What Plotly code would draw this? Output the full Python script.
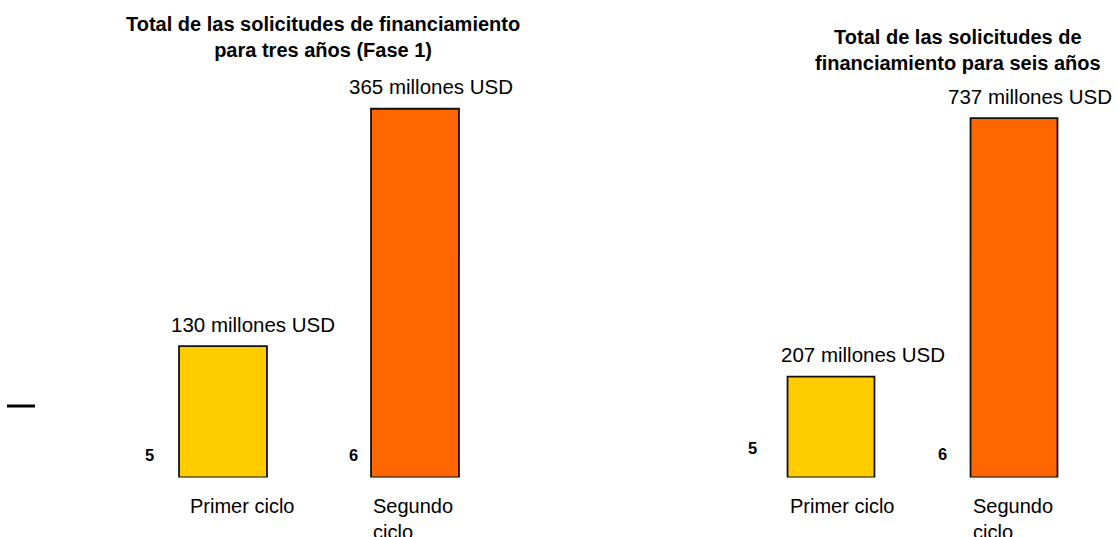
import plotly.graph_objects as go

# ---------------- data ----------------
categories = ["Primer ciclo", "Segundo<br>ciclo"]
cycle_numbers = ["5", "6"]
phase1_values = [130, 365]        # millones USD, tres años (Fase 1)
six_year_values = [207, 737]      # millones USD, seis años
panel_titles = [
    "<b>Total de las solicitudes de financiamiento<br>para tres años (Fase 1)</b>",
    "<b>Total de las solicitudes de<br>financiamiento para seis años</b>",
]
unit_label = "millones USD"

# ---------------- style ----------------
W, H = 1118, 537
FONT = "Liberation Sans, Arial, sans-serif"
bar_colors = ["#FFCC00", "#FF6600"]
panels = [
    dict(values=phase1_values, xa="x", ya="y", xdom=[127 / W, 511 / W], top=1.295,
         width=0.458, val_dx=[30, 16], num_dx=[-74, -62], num_dy=[23, 23],
         cat_dx=[-35, -44], title_x=323 / W, title_y=1 - 37 / H),
    dict(values=six_year_values, xa="x2", ya="y2", xdom=[739.5 / W, 1105.5 / W], top=1.329,
         width=0.475, val_dx=[32, 16], num_dx=[-79, -72], num_dy=[30, 24],
         cat_dx=[-43, -43], title_x=958 / W, title_y=1 - 50 / H),
]
base_paper = (H - 477.5) / H

fig = go.Figure()
annotations = []
for idx, p in enumerate(panels):
    vals = p["values"]
    fig.add_trace(go.Bar(
        x=list(range(len(categories))), y=vals, width=p["width"],
        marker=dict(color=bar_colors, line=dict(color="#111111", width=1.8)),
        xaxis=p["xa"], yaxis=p["ya"], showlegend=False, hoverinfo="skip",
    ))
    for i, v in enumerate(vals):
        annotations.append(dict(
            x=i, y=v, xref=p["xa"], yref=p["ya"], text=f"{v} {unit_label}",
            showarrow=False, xanchor="center", yanchor="middle",
            xshift=p["val_dx"][i], yshift=22,
            font=dict(family=FONT, size=20.5, color="#000000")))
        annotations.append(dict(
            x=i, y=0, xref=p["xa"], yref=p["ya"], text=f"<b>{cycle_numbers[i]}</b>",
            showarrow=False, xanchor="center", yanchor="middle",
            xshift=p["num_dx"][i], yshift=p["num_dy"][i],
            font=dict(family=FONT, size=16.5, color="#000000")))
        annotations.append(dict(
            x=i, y=0, xref=p["xa"], yref=p["ya"], text=categories[i],
            showarrow=False, xanchor="left", yanchor="top", align="left",
            xshift=p["cat_dx"][i], yshift=-15,
            font=dict(family=FONT, size=20, color="#000000")))
    annotations.append(dict(
        x=p["title_x"], y=p["title_y"], xref="paper", yref="paper",
        text=panel_titles[idx], showarrow=False,
        xanchor="center", yanchor="middle", align="center",
        font=dict(family=FONT, size=20, color="#000000")))

axis_common = dict(visible=False, showgrid=False, zeroline=False, fixedrange=True)
fig.update_layout(
    width=W, height=H, margin=dict(l=0, r=0, t=0, b=0),
    paper_bgcolor="white", plot_bgcolor="white",
    xaxis=dict(domain=panels[0]["xdom"], range=[-0.5, 1.5], anchor="y", **axis_common),
    yaxis=dict(domain=[base_paper, 1], range=[0, max(phase1_values) * panels[0]["top"]],
               anchor="x", **axis_common),
    xaxis2=dict(domain=panels[1]["xdom"], range=[-0.5, 1.5], anchor="y2", **axis_common),
    yaxis2=dict(domain=[base_paper, 1], range=[0, max(six_year_values) * panels[1]["top"]],
                anchor="x2", **axis_common),
    annotations=annotations,
    shapes=[dict(type="line", xref="paper", yref="paper",
                 x0=7 / W, x1=35 / W, y0=1 - 406 / H, y1=1 - 406 / H,
                 line=dict(color="black", width=3))],
)

fig.write_html("out.html")
